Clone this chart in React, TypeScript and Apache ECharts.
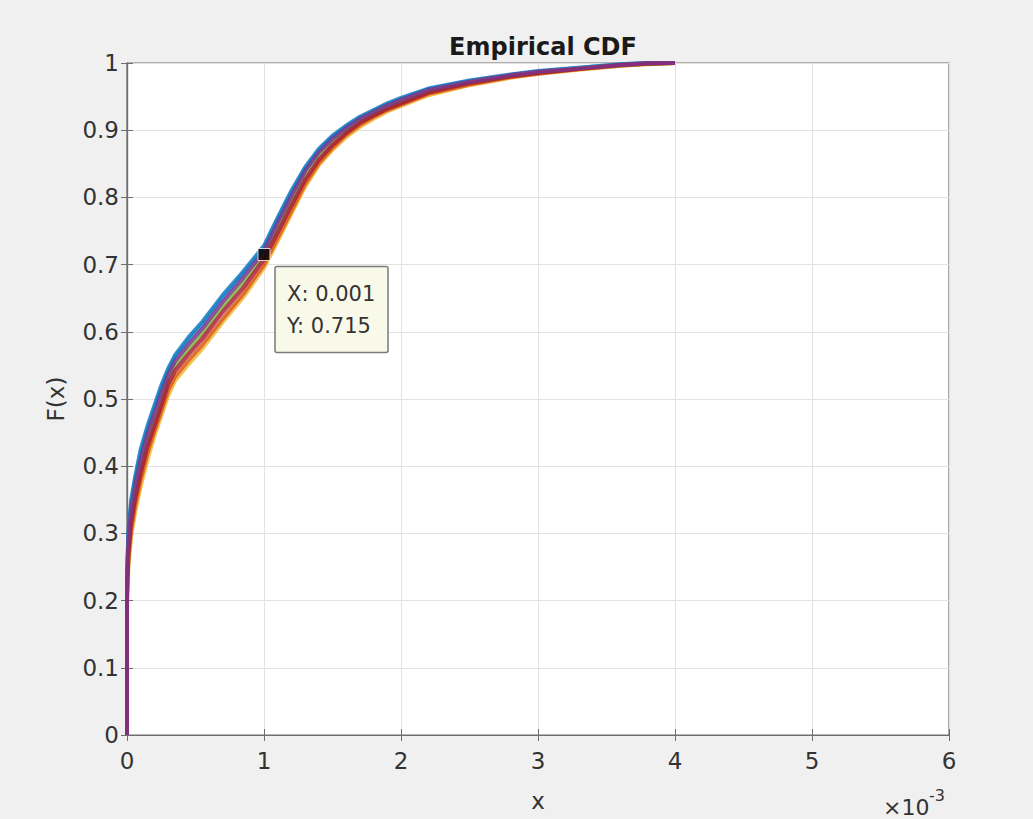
import React, { useEffect, useRef } from "react";
import * as echarts from "echarts";

// x values in units of 1e-3
const xMilli = [0, 0, 0.01, 0.03, 0.06, 0.1, 0.15, 0.2, 0.25, 0.3, 0.35, 0.45, 0.55, 0.7, 0.85, 1.0, 1.1, 1.2, 1.3, 1.4, 1.5, 1.6, 1.7, 1.8, 1.9, 2.0, 2.2, 2.5, 2.8, 3.0, 3.3, 3.6, 3.8, 4.0];

const cdfBlue = [0, 0.24, 0.30, 0.35, 0.385, 0.425, 0.46, 0.49, 0.52, 0.545, 0.565, 0.592, 0.615, 0.655, 0.69, 0.728, 0.77, 0.81, 0.845, 0.872, 0.892, 0.907, 0.92, 0.93, 0.94, 0.948, 0.962, 0.974, 0.983, 0.988, 0.993, 0.998, 1.0, 1.0];
const cdfLightBlue = [0, 0.235, 0.295, 0.34, 0.378, 0.417, 0.455, 0.485, 0.515, 0.54, 0.561, 0.587, 0.61, 0.65, 0.686, 0.724, 0.766, 0.806, 0.842, 0.87, 0.89, 0.905, 0.918, 0.928, 0.938, 0.946, 0.961, 0.973, 0.982, 0.987, 0.993, 0.998, 1.0, 1.0];
const cdfPurple = [0, 0.23, 0.29, 0.335, 0.372, 0.41, 0.448, 0.478, 0.508, 0.536, 0.556, 0.582, 0.605, 0.645, 0.681, 0.72, 0.762, 0.802, 0.839, 0.867, 0.887, 0.903, 0.917, 0.927, 0.937, 0.945, 0.96, 0.972, 0.982, 0.987, 0.992, 0.997, 1.0, 1.0];
const cdfGreen = [0, 0.22, 0.28, 0.325, 0.362, 0.40, 0.44, 0.47, 0.50, 0.53, 0.55, 0.575, 0.598, 0.638, 0.674, 0.715, 0.755, 0.795, 0.833, 0.862, 0.883, 0.90, 0.914, 0.925, 0.935, 0.943, 0.958, 0.971, 0.981, 0.986, 0.992, 0.997, 0.999, 1.0];
const cdfDarkRed = [0, 0.21, 0.27, 0.315, 0.352, 0.39, 0.43, 0.46, 0.49, 0.522, 0.542, 0.567, 0.59, 0.63, 0.666, 0.708, 0.748, 0.788, 0.826, 0.856, 0.878, 0.896, 0.911, 0.922, 0.932, 0.94, 0.956, 0.97, 0.98, 0.985, 0.991, 0.997, 0.999, 1.0];
const cdfOrange = [0, 0.20, 0.26, 0.305, 0.342, 0.38, 0.42, 0.452, 0.482, 0.513, 0.533, 0.558, 0.581, 0.62, 0.657, 0.70, 0.74, 0.78, 0.82, 0.851, 0.874, 0.893, 0.908, 0.92, 0.93, 0.938, 0.954, 0.968, 0.979, 0.984, 0.991, 0.996, 0.999, 1.0];
const cdfYellow = [0, 0.19, 0.25, 0.295, 0.332, 0.37, 0.41, 0.445, 0.475, 0.505, 0.527, 0.552, 0.575, 0.615, 0.652, 0.695, 0.735, 0.776, 0.816, 0.848, 0.871, 0.89, 0.905, 0.917, 0.928, 0.936, 0.952, 0.967, 0.978, 0.984, 0.99, 0.996, 0.998, 1.0];

const seriesList = [
  { name: "s1", color: "#EDB120", values: cdfYellow },
  { name: "s2", color: "#D95319", values: cdfOrange },
  { name: "s3", color: "#4DBEEE", values: cdfLightBlue },
  { name: "s4", color: "#0072BD", values: cdfBlue },
  { name: "s5", color: "#77AC30", values: cdfGreen },
  { name: "s6", color: "#A2142F", values: cdfDarkRed },
  { name: "s7", color: "#7E2F8E", values: cdfPurple },
];

const dataTipPoint = [0.001, 0.715];
const xTicksMax = 0.006;
const title = "Empirical CDF";
const FONT = "DejaVu Sans";
const TEXT_COLOR = "#333333";
const AXIS_COLOR = "#6e6e6e";

export default function App() {
  const ref = useRef<HTMLDivElement>(null);
  useEffect(() => {
    if (!ref.current) return;
    const chart = echarts.init(ref.current, undefined, { renderer: "svg" });
    const axisCommon = {
      type: "value" as const,
      axisLine: { show: true, lineStyle: { color: AXIS_COLOR, width: 1.2 } },
      axisTick: { show: true, inside: true, length: 6, lineStyle: { color: AXIS_COLOR, width: 1 } },
    };
    chart.setOption({
      animation: false,
      backgroundColor: "#F0F0F0",
      title: {
        text: title,
        left: 538,
        top: 30,
        textAlign: "center",
        textStyle: { fontFamily: FONT, fontSize: 24, fontWeight: "bold", color: "#1a1a1a" },
      },
      grid: {
        left: 127,
        right: 84,
        top: 63,
        bottom: 84,
        show: true,
        backgroundColor: "#ffffff",
        borderColor: AXIS_COLOR,
        borderWidth: 1.2,
      },
      xAxis: [
        {
          ...axisCommon,
          position: "bottom",
          min: 0,
          max: xTicksMax,
          interval: 0.001,
          name: "x",
          nameLocation: "middle",
          nameGap: 54,
          nameTextStyle: { fontFamily: FONT, fontSize: 23, color: TEXT_COLOR },
          axisLabel: {
            margin: 14,
            fontFamily: FONT,
            fontSize: 23,
            color: TEXT_COLOR,
            formatter: (v: number) => String(Math.round(v * 1000)),
          },
          splitLine: { show: true, lineStyle: { color: "#e2e2e2", width: 1 } },
        },
        {
          ...axisCommon,
          position: "top",
          min: 0,
          max: xTicksMax,
          interval: 0.001,
          axisLabel: { show: false },
          splitLine: { show: false },
        },
      ],
      yAxis: [
        {
          ...axisCommon,
          position: "left",
          min: 0,
          max: 1,
          interval: 0.1,
          name: "F(x)",
          nameLocation: "middle",
          nameGap: 60,
          nameTextStyle: { fontFamily: FONT, fontSize: 23, color: TEXT_COLOR },
          axisLabel: {
            margin: 8,
            fontFamily: FONT,
            fontSize: 23,
            color: TEXT_COLOR,
            formatter: (v: number) => String(Math.round(v * 10) / 10),
          },
          splitLine: { show: true, lineStyle: { color: "#e2e2e2", width: 1 } },
        },
        {
          ...axisCommon,
          position: "right",
          min: 0,
          max: 1,
          interval: 0.1,
          axisLabel: { show: false },
          splitLine: { show: false },
        },
      ],
      series: [
        ...seriesList.map((s) => ({
          type: "line",
          name: s.name,
          xAxisIndex: 0,
          yAxisIndex: 0,
          showSymbol: false,
          symbol: "none",
          smooth: false,
          data: xMilli.map((x, i) => [x / 1000, s.values[i]]),
          lineStyle: { color: s.color, width: 4, opacity: 0.8 },
          itemStyle: { color: s.color },
          z: 2,
        })),
        {
          type: "scatter",
          name: "datatip",
          xAxisIndex: 0,
          yAxisIndex: 0,
          symbol: "rect",
          symbolSize: 12,
          data: [dataTipPoint],
          itemStyle: { color: "#000000", borderColor: "#ffffff", borderWidth: 1 },
          z: 5,
        },
      ],
    });

    const p = chart.convertToPixel({ gridIndex: 0 }, dataTipPoint) as number[];
    const bx = p[0] + 11;
    const by = p[1] + 12;
    chart.setOption({
      graphic: [
        {
          type: "rect",
          shape: { x: bx, y: by, width: 113, height: 86, r: 2 },
          style: { fill: "#F9F9EA", stroke: "#7a7a7a", lineWidth: 1.5 },
          z: 10,
        },
        {
          type: "text",
          x: bx + 12,
          y: by + 27,
          style: {
            text: "X: " + dataTipPoint[0],
            fontFamily: FONT,
            fontSize: 21,
            fill: TEXT_COLOR,
            verticalAlign: "middle",
          },
          z: 11,
        },
        {
          type: "text",
          x: bx + 12,
          y: by + 59,
          style: {
            text: "Y: " + dataTipPoint[1],
            fontFamily: FONT,
            fontSize: 21,
            fill: TEXT_COLOR,
            verticalAlign: "middle",
          },
          z: 11,
        },
        {
          type: "text",
          x: 883,
          y: 807,
          style: { text: "×10", fontFamily: FONT, fontSize: 22, fill: TEXT_COLOR, verticalAlign: "middle" },
          z: 11,
        },
        {
          type: "text",
          x: 929,
          y: 795,
          style: { text: "-3", fontFamily: FONT, fontSize: 16, fill: TEXT_COLOR, verticalAlign: "middle" },
          z: 11,
        },
      ],
    });

    return () => chart.dispose();
  }, []);
  return <div ref={ref} style={{ position: "fixed", left: 0, top: 0, width: 1033, height: 819 }} />;
}
